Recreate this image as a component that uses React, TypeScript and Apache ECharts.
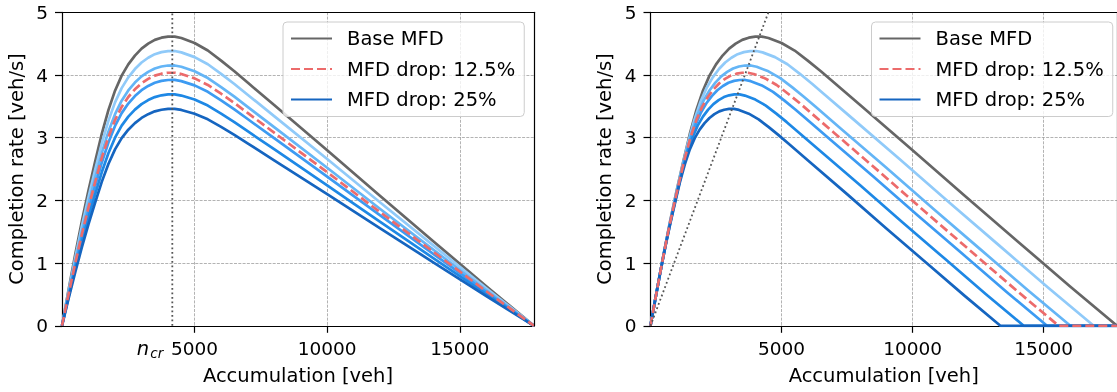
import React, { useEffect, useRef } from "react";
import * as echarts from "echarts";

const FONT = "DejaVu Sans";
const JAM = 17800;
const N_CR = 4160;
const X_TICKS = [5000, 10000, 15000];
const Y_MAX = 5;
const LEGEND_NAMES = ["Base MFD", "MFD drop: 12.5%", "MFD drop: 25%"];

// Left panel: accumulation grid shared by all curves
const X_BASE = [0, 250, 500, 750, 1000, 1250, 1500, 1750, 2000, 2250, 2500, 2750, 3000, 3250, 3500, 3750, 4000, 4250, 4500, 5000, 5500, 6000, 6500, 7000, 8000, 10000, 12000, 14000, 16000, 17800];

const Y_BASE = [0, 0.58, 1.14, 1.67, 2.16, 2.62, 3.06, 3.44, 3.75, 3.99, 4.17, 4.31, 4.42, 4.5, 4.56, 4.595, 4.612, 4.613, 4.59, 4.51, 4.39, 4.23, 4.06, 3.88, 3.52, 2.8, 2.07, 1.35, 0.63, 0];
const Y_05 = [0, 0.551, 1.083, 1.587, 2.052, 2.489, 2.907, 3.268, 3.563, 3.791, 3.962, 4.095, 4.199, 4.275, 4.332, 4.365, 4.381, 4.382, 4.361, 4.285, 4.171, 4.019, 3.857, 3.686, 3.344, 2.66, 1.967, 1.283, 0.599, 0];
const Y_10 = [0, 0.522, 1.026, 1.503, 1.944, 2.358, 2.754, 3.096, 3.375, 3.591, 3.753, 3.879, 3.978, 4.05, 4.104, 4.136, 4.151, 4.152, 4.131, 4.059, 3.951, 3.807, 3.654, 3.492, 3.168, 2.52, 1.863, 1.215, 0.567, 0];
const Y_125 = [0, 0.508, 0.998, 1.461, 1.89, 2.293, 2.678, 3.01, 3.281, 3.491, 3.649, 3.771, 3.868, 3.938, 3.99, 4.021, 4.036, 4.036, 4.016, 3.946, 3.841, 3.701, 3.553, 3.395, 3.08, 2.45, 1.811, 1.181, 0.551, 0];
const Y_15 = [0, 0.493, 0.969, 1.42, 1.836, 2.227, 2.601, 2.924, 3.188, 3.392, 3.545, 3.664, 3.757, 3.825, 3.876, 3.906, 3.92, 3.921, 3.902, 3.834, 3.732, 3.596, 3.451, 3.298, 2.992, 2.38, 1.76, 1.148, 0.536, 0];
const Y_20 = [0, 0.464, 0.912, 1.336, 1.728, 2.096, 2.448, 2.752, 3.0, 3.192, 3.336, 3.448, 3.536, 3.6, 3.648, 3.676, 3.69, 3.69, 3.672, 3.608, 3.512, 3.384, 3.248, 3.104, 2.816, 2.24, 1.656, 1.08, 0.504, 0];
const Y_25 = [0, 0.435, 0.855, 1.253, 1.62, 1.965, 2.295, 2.58, 2.813, 2.993, 3.128, 3.233, 3.315, 3.375, 3.42, 3.446, 3.459, 3.46, 3.443, 3.383, 3.293, 3.173, 3.045, 2.91, 2.64, 2.1, 1.553, 1.013, 0.473, 0];

// Right panel: accumulations of each dropped curve (last point: flat at zero up to jam)
const RX_05 = [0, 238, 475, 713, 950, 1188, 1425, 1663, 1900, 2138, 2375, 2613, 2850, 3088, 3325, 3563, 3800, 4038, 4275, 4750, 5225, 5700, 6175, 6650, 7600, 9500, 11400, 13300, 15200, 16910, 17800];
const RX_10 = [0, 225, 450, 675, 900, 1125, 1350, 1575, 1800, 2025, 2250, 2475, 2700, 2925, 3150, 3375, 3600, 3825, 4050, 4500, 4950, 5400, 5850, 6300, 7200, 9000, 10800, 12600, 14400, 16020, 17800];
const RX_125 = [0, 219, 438, 656, 875, 1094, 1313, 1531, 1750, 1969, 2188, 2406, 2625, 2844, 3063, 3281, 3500, 3719, 3938, 4375, 4813, 5250, 5688, 6125, 7000, 8750, 10500, 12250, 14000, 15575, 17800];
const RX_15 = [0, 213, 425, 638, 850, 1063, 1275, 1488, 1700, 1913, 2125, 2338, 2550, 2763, 2975, 3188, 3400, 3613, 3825, 4250, 4675, 5100, 5525, 5950, 6800, 8500, 10200, 11900, 13600, 15130, 17800];
const RX_20 = [0, 200, 400, 600, 800, 1000, 1200, 1400, 1600, 1800, 2000, 2200, 2400, 2600, 2800, 3000, 3200, 3400, 3600, 4000, 4400, 4800, 5200, 5600, 6400, 8000, 9600, 11200, 12800, 14240, 17800];
const RX_25 = [0, 188, 375, 563, 750, 938, 1125, 1313, 1500, 1688, 1875, 2063, 2250, 2438, 2625, 2813, 3000, 3188, 3375, 3750, 4125, 4500, 4875, 5250, 6000, 7500, 9000, 10500, 12000, 13350, 17800];

// Critical-point locus (right panel) and n_cr marker (left panel)
const CRIT_X = [0, 4500];
const CRIT_Y = [0, 5];
const NCR_X = [N_CR, N_CR];
const NCR_Y = [0, 5];

const C_BASE = "#666666";
const C_05 = "#90caf9";
const C_10 = "#64b5f6";
const C_125 = "#ec6b6b";
const C_15 = "#3d9bf2";
const C_20 = "#1e88e5";
const C_25 = "#1565c0";

function pairs(xs: number[], ys: number[]) {
  return xs.map((x, i) => [x, i < ys.length ? ys[i] : 0]);
}

function curve(name: string, data: number[][], color: string, idx: number, dash?: any) {
  return {
    type: "line",
    name,
    data,
    xAxisIndex: idx,
    yAxisIndex: idx,
    symbol: "none",
    showSymbol: false,
    smooth: false,
    silent: true,
    lineStyle: { color, width: 2.7, type: dash || "solid", join: "round" },
    itemStyle: { color },
  };
}

function dotted(name: string, data: number[][], idx: number) {
  return {
    type: "line",
    name,
    data,
    xAxisIndex: idx,
    yAxisIndex: idx,
    symbol: "none",
    showSymbol: false,
    silent: true,
    z: 5,
    lineStyle: { color: "#555555", width: 1.8, type: [1.8, 2.7] },
  };
}

const fmt = (v: number) => String(v);

function xAxisCfg(i: number) {
  return {
    type: "value",
    gridIndex: i,
    min: 0,
    max: JAM,
    interval: 5000,
    axisLine: { show: true, onZero: false, lineStyle: { color: "#000", width: 1.2 } },
    axisTick: { show: true, length: 7, lineStyle: { color: "#000", width: 1.2 }, customValues: X_TICKS },
    axisLabel: { customValues: X_TICKS, formatter: fmt, fontSize: 18.5, color: "#000", fontFamily: FONT, margin: 13 },
    splitLine: { show: true, lineStyle: { color: "#a0a0a0", width: 0.8, type: [3, 1.3] } },
    name: "Accumulation [veh]",
    nameLocation: "middle",
    nameGap: 40,
    nameTextStyle: { fontSize: 19.5, color: "#000", fontFamily: FONT },
  };
}

function frameX(i: number) {
  return {
    type: "value",
    gridIndex: i,
    position: "top",
    min: 0,
    max: JAM,
    z: 4,
    axisLine: { show: true, onZero: false, lineStyle: { color: "#000", width: 1.2 } },
    axisTick: { show: false },
    axisLabel: { show: false },
    splitLine: { show: false },
  };
}

function yAxisCfg(i: number) {
  return {
    type: "value",
    gridIndex: i,
    min: 0,
    max: Y_MAX,
    interval: 1,
    axisLine: { show: true, onZero: false, lineStyle: { color: "#000", width: 1.2 } },
    axisTick: { show: true, length: 7, lineStyle: { color: "#000", width: 1.2 } },
    axisLabel: { formatter: fmt, fontSize: 18.5, color: "#000", fontFamily: FONT, margin: 14 },
    splitLine: { show: true, lineStyle: { color: "#a0a0a0", width: 0.8, type: [3, 1.3] } },
    name: "Completion rate [veh/s]",
    nameLocation: "middle",
    nameRotate: 90,
    nameGap: 36,
    nameTextStyle: { fontSize: 19.5, color: "#000", fontFamily: FONT },
  };
}

function frameY(i: number) {
  return {
    type: "value",
    gridIndex: i,
    position: "right",
    min: 0,
    max: Y_MAX,
    z: 4,
    axisLine: { show: true, onZero: false, lineStyle: { color: "#000", width: 1.2 } },
    axisTick: { show: false },
    axisLabel: { show: false },
    splitLine: { show: false },
  };
}

function legendCfg(left: number) {
  return {
    data: LEGEND_NAMES,
    orient: "vertical",
    left,
    top: 22,
    padding: [6.5, 9, 7, 7],
    itemWidth: 41,
    itemHeight: 14,
    itemGap: 10.5,
    selectedMode: false,
    backgroundColor: "rgba(255,255,255,0.8)",
    borderColor: "#cccccc",
    borderWidth: 1,
    borderRadius: 4,
    itemStyle: { opacity: 0 },
    textStyle: { fontSize: 19.5, color: "#000", fontFamily: FONT, padding: [0, 0, 0, 10] },
  };
}

export default function App() {
  const ref = useRef<HTMLDivElement>(null);
  useEffect(() => {
    const chart = echarts.init(ref.current!, null, { renderer: "svg" });
    const option: any = {
      animation: false,
      textStyle: { fontFamily: FONT },
      grid: [
        { left: 62, right: 583, top: 12.3, bottom: 66.2 },
        { left: 650.5, right: -5, top: 12.3, bottom: 66.2 },
      ],
      xAxis: [xAxisCfg(0), xAxisCfg(1), frameX(0), frameX(1)],
      yAxis: [yAxisCfg(0), yAxisCfg(1), frameY(0), frameY(1)],
      legend: [legendCfg(283), legendCfg(871.5)],
      series: [
        curve("Base MFD", pairs(X_BASE, Y_BASE), C_BASE, 0),
        curve("MFD drop: 5%", pairs(X_BASE, Y_05), C_05, 0),
        curve("MFD drop: 10%", pairs(X_BASE, Y_10), C_10, 0),
        curve("MFD drop: 15%", pairs(X_BASE, Y_15), C_15, 0),
        curve("MFD drop: 20%", pairs(X_BASE, Y_20), C_20, 0),
        curve("MFD drop: 25%", pairs(X_BASE, Y_25), C_25, 0),
        curve("MFD drop: 12.5%", pairs(X_BASE, Y_125), C_125, 0, [9, 4]),
        dotted("n_cr", pairs(NCR_X, NCR_Y), 0),
        curve("Base MFD", pairs(X_BASE, Y_BASE), C_BASE, 1),
        curve("MFD drop: 5%", pairs(RX_05, Y_05), C_05, 1),
        curve("MFD drop: 10%", pairs(RX_10, Y_10), C_10, 1),
        curve("MFD drop: 15%", pairs(RX_15, Y_15), C_15, 1),
        curve("MFD drop: 20%", pairs(RX_20, Y_20), C_20, 1),
        curve("MFD drop: 25%", pairs(RX_25, Y_25), C_25, 1),
        curve("MFD drop: 12.5%", pairs(RX_125, Y_125), C_125, 1, [9, 4]),
        dotted("critical", pairs(CRIT_X, CRIT_Y), 1),
      ],
    };
    chart.setOption(option);
    const p = chart.convertToPixel({ xAxisIndex: 0, yAxisIndex: 0 }, [N_CR, 0]) as number[];
    chart.setOption({
      graphic: [
        {
          type: "text",
          x: p[0] - 35.5,
          y: p[1] + 22.5,
          style: { text: "n", fontSize: 19.5, fontStyle: "italic", fontFamily: FONT, fill: "#000", verticalAlign: "middle", align: "left" },
        },
        {
          type: "text",
          x: p[0] - 22,
          y: p[1] + 26.8,
          style: { text: "cr", fontSize: 13.5, fontStyle: "italic", fontFamily: FONT, fill: "#000", verticalAlign: "middle", align: "left" },
        },
      ],
    });
    return () => chart.dispose();
  }, []);
  return <div ref={ref} style={{ position: "fixed", left: 0, top: 0, width: 1117, height: 392 }} />;
}
